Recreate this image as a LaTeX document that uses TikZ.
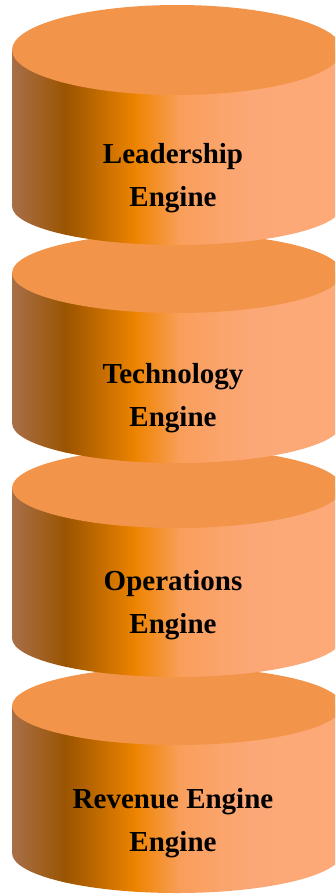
\documentclass[tikz,border=0pt]{standalone}
\usepackage{fontspec}
\setmainfont{Liberation Serif}
\definecolor{topface}{HTML}{F2944A}
\definecolor{sa}{HTML}{A8704A}
\definecolor{sb}{HTML}{9A5400}
\definecolor{sc}{HTML}{EE8400}
\definecolor{sd}{HTML}{F99F5C}
\definecolor{se}{HTML}{FCA776}
\definecolor{sf}{HTML}{FDAA78}
\newcommand\engcyl[4]{%
  \begin{scope}
    \clip (12,#1) -- (12,#2) arc[start angle=180,end angle=0,x radius=165,y radius=#4] -- (342,#1) -- cycle;
    \shade[left color=sa,right color=sb] (11,#1-60) rectangle (66,#2+60);
    \shade[left color=sb,right color=sc] (65,#1-60) rectangle (136,#2+60);
    \shade[left color=sc,right color=sd] (135,#1-60) rectangle (181,#2+60);
    \shade[left color=sd,right color=se] (180,#1-60) rectangle (251,#2+60);
    \shade[left color=se,right color=sf] (250,#1-60) rectangle (343,#2+60);
  \end{scope}
  \fill[topface] (177,#1) ellipse[x radius=165,y radius=#3];
}
\begin{document}
\begin{tikzpicture}[x=1pt,y=-1pt,
  lbl/.style={anchor=base,inner sep=0pt,text=black,
    font=\fontsize{29}{43}\selectfont\bfseries}]
\useasboundingbox (0,0) rectangle (335,894);
\clip (0,0) rectangle (335,894);
\engcyl{706}{853}{39}{40}
\engcyl{488}{638}{40}{39}
\engcyl{273}{423}{40}{40}
\engcyl{50}{206}{45}{39}
\node[lbl] (lead) at (173,163) {\begin{tabular}[t]{@{}c@{}}Leadership\\Engine\end{tabular}};
\node[lbl] (tech) at (173,383) {\begin{tabular}[t]{@{}c@{}}Technology\\Engine\end{tabular}};
\node[lbl] (ops) at (173,590) {\begin{tabular}[t]{@{}c@{}}Operations\\Engine\end{tabular}};
\node[lbl] (rev) at (173,808) {\begin{tabular}[t]{@{}c@{}}Revenue Engine\\Engine\end{tabular}};
\end{tikzpicture}
\end{document}
